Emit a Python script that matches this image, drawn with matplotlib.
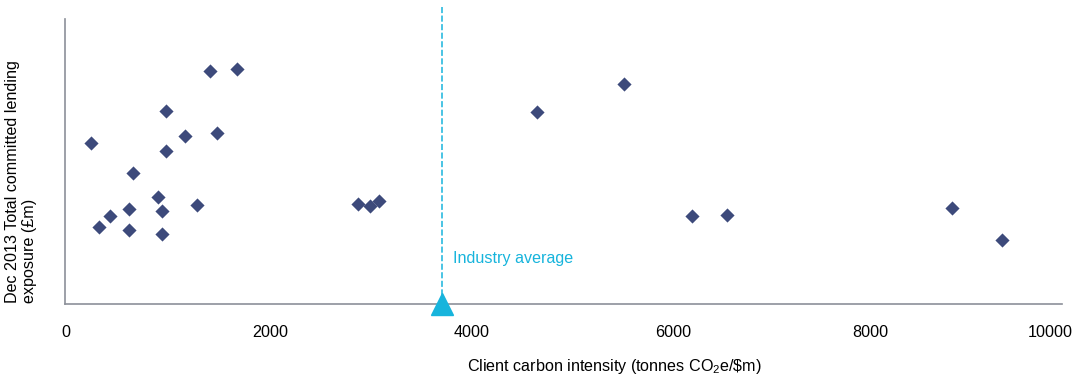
import matplotlib
matplotlib.use("Agg")
import matplotlib.pyplot as plt
from matplotlib.transforms import ScaledTranslation

plt.rcParams['font.family'] = ['Liberation Sans', 'DejaVu Sans']
plt.rcParams['mathtext.fontset'] = 'custom'
plt.rcParams['mathtext.rm'] = 'Liberation Sans'

# client carbon intensity (tonnes CO2e/$m) and committed lending exposure (arbitrary £m scale)
intensity = [261, 338, 448, 642, 642, 685, 936, 976, 976, 1013, 1013, 1204, 1321,
             1454, 1528, 1728, 2942, 3059, 3146, 4731, 5604, 6292, 6643, 8897, 9398]
exposure = [1613, 773, 877, 950, 740, 1307, 1067, 930, 700, 1533, 1927, 1683, 987,
            2327, 1713, 2347, 997, 980, 1030, 1923, 2197, 877, 890, 963, 637]
industry_avg = 3780
xticks = [0, 2000, 4000, 6000, 8000, 10000]

navy = '#3d4a7b'
cyan = '#17b4dc'
fs = 11.6

fig = plt.figure(figsize=(10.74, 3.75), dpi=100)
ax = fig.add_axes([65 / 1074, 71 / 375, 997 / 1074, 297 / 375])

ax.scatter(intensity, exposure, marker='D', s=52, color=navy, zorder=3, linewidths=0)

ax.axvline(industry_avg, color=cyan, lw=1.1, ls=(0, (4, 1.6)), zorder=2, clip_on=False)
ax.plot([industry_avg], [0], marker='^', markersize=16.5, color=cyan,
        clip_on=False, zorder=4)
ax.text(industry_avg + 110, 460, 'Industry average', color=cyan, fontsize=fs,
        va='center', ha='left')

ax.set_xlim(0, 10000)
ax.set_ylim(0, 2970)
ax.set_xticks(xticks)
ax.set_xticklabels([str(t) for t in xticks], fontsize=fs)
ax.tick_params(axis='x', length=0, pad=15)
ax.set_yticks([])

# labels in the original sit a little right of their ticks, last one pulled in
shifts = [1, 6, 8, 10, 8, -12]
for lab, dx in zip(ax.get_xticklabels(), shifts):
    lab.set_transform(lab.get_transform() + ScaledTranslation(dx / 100, 0, fig.dpi_scale_trans))

for s in ['top', 'right']:
    ax.spines[s].set_visible(False)
for s in ['left', 'bottom']:
    ax.spines[s].set_color('#8c9099')
    ax.spines[s].set_linewidth(1.2)
ax.spines['left'].set_bounds(0, 2850)

fig.text(614 / 1074, 1 - 366 / 375, r'Client carbon intensity (tonnes CO$_\mathrm{2}$e/\$m)',
         ha='center', va='center', fontsize=fs)
fig.text(21 / 1074, 1 - 303 / 375, 'Dec 2013 Total committed lending\nexposure (£m)',
         rotation=90, ha='center', va='bottom', fontsize=fs, multialignment='left',
         linespacing=1.15)

fig.savefig('out.png', dpi=100)
